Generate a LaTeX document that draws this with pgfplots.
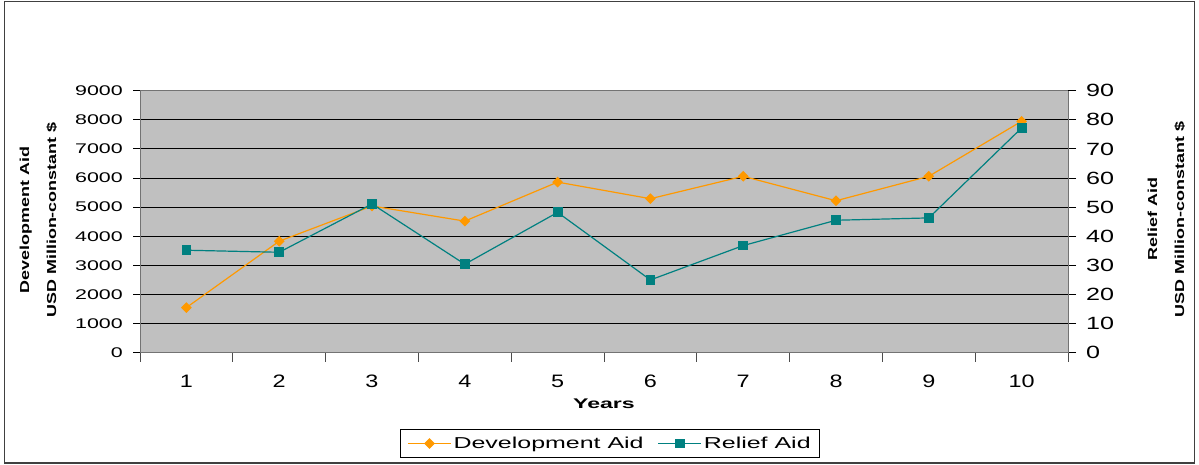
\documentclass[border=0pt]{standalone}
\usepackage{fontspec}
\setmainfont{Liberation Sans}
\newfontfamily\ytfont[FakeStretch=1.53]{Liberation Sans}
\newfontfamily\yrfont[FakeStretch=1.42]{Liberation Sans}
\newfontfamily\xtfont[FakeStretch=1.3]{Liberation Sans}
\newfontfamily\labfont[FakeStretch=1.38]{Liberation Sans}
\newfontfamily\yearfont[FakeStretch=1.65]{Liberation Sans}
\newfontfamily\legfont[FakeStretch=1.58]{Liberation Sans}
\usepackage{pgfplots}
\pgfplotsset{compat=1.18}
\definecolor{devc}{HTML}{FF9900}
\definecolor{relc}{HTML}{008080}
\definecolor{plotbg}{HTML}{C0C0C0}
\begin{document}
\begin{tikzpicture}[x=1pt,y=1pt]
\path[use as bounding box] (0,0) rectangle (1199,464);
\draw[line width=1.5pt, draw=black!75] (4.5,1) rectangle (1194.5,462.5);
\begin{axis}[
  at={(140pt,111.3pt)}, anchor=south west,
  width=928pt, height=262pt, scale only axis,
  xmin=0.5, xmax=10.5, ymin=0, ymax=9000,
  axis background/.style={fill=plotbg},
  axis line style={draw=black!55, line width=1pt},
  xtick={1,...,10},
  minor xtick={0.5,1.5,...,10.5},
  xtick pos=bottom, ytick pos=left,
  tick align=outside,
  major x tick style={draw=none},
  minor x tick style={draw=black!70, line width=1pt},
  minor tick length=9pt,
  major tick length=7pt,
  ytick={0,1000,...,9000},
  y tick style={draw=black, line width=1pt},
  ymajorgrids,
  major grid style={black, line width=0.9pt},
  /pgf/number format/1000 sep={},
  /pgf/number format/assume math mode=true,
  yticklabel style={font=\ytfont\fontsize{14}{16}\selectfont, anchor=east, inner sep=0pt, xshift=-10pt},
  xticklabel style={font=\xtfont\fontsize{18}{20}\selectfont, anchor=center, inner sep=0pt, yshift=-22pt},
  xlabel={Years},
  xlabel style={font=\yearfont\bfseries\fontsize{14}{16}\selectfont, at={(axis description cs:0.5,-0.195)}, anchor=center, inner sep=0pt},
  ylabel={Development Aid\\USD Million-constant \$},
  every axis y label/.style={at={(axis description cs:-0.1094,0.5065)}, anchor=center, rotate=90, align=center, font=\labfont\bfseries\fontsize{13}{27}\selectfont, inner sep=0pt},
]
\addplot[devc, line width=1.2pt, mark=square*, mark size=3.2pt, mark options={rotate=45, fill=devc, draw=devc}] coordinates {
(1,1550) (2,3830) (3,5040) (4,4520) (5,5860) (6,5290) (7,6060) (8,5220) (9,6060) (10,7950)};
\end{axis}
\begin{axis}[
  at={(140pt,111.3pt)}, anchor=south west,
  width=928pt, height=262pt, scale only axis,
  xmin=0.5, xmax=10.5, ymin=0, ymax=90,
  axis x line=none,
  axis y line*=right,
  axis line style={draw=black!55, line width=1pt},
  tick align=outside,
  major tick length=8pt,
  ytick={0,10,...,90},
  y tick style={draw=black, line width=1pt},
  /pgf/number format/assume math mode=true,
  yticklabel style={font=\yrfont\fontsize{17.7}{20}\selectfont, anchor=west, inner sep=0pt, xshift=10pt},
  ylabel={Relief Aid\\USD Million-constant \$},
  every axis y label/.style={at={(axis description cs:1.1061,0.509)}, anchor=center, rotate=90, align=center, font=\labfont\bfseries\fontsize{13}{27}\selectfont, inner sep=0pt},
  legend columns=2,
  legend style={at={(axis description cs:0.5065,-0.3466)}, anchor=center, draw=black, line width=0.8pt, font=\legfont\fontsize{15.8}{18}\selectfont, inner xsep=7pt, inner ysep=5.5pt, /tikz/every even column/.append style={column sep=12pt}},
  legend image code/.code={\draw[#1, line width=1.2pt] (0pt,0pt) -- (43pt,0pt); \draw[#1, line width=1.2pt] plot coordinates {(21.5pt,0pt)};},
]
\addlegendimage{devc, line width=1.2pt, mark=square*, mark size=3.2pt, mark options={rotate=45, fill=devc, draw=devc}}
\addlegendentry{Development Aid}
\addplot[relc, line width=1.2pt, mark=square*, mark size=4.3pt, mark options={fill=relc, draw=relc}] coordinates {
(1,35.2) (2,34.5) (3,51.1) (4,30.4) (5,48.2) (6,25.0) (7,36.8) (8,45.5) (9,46.3) (10,77.2)};
\addlegendentry{Relief Aid}
\end{axis}
\end{tikzpicture}
\end{document}
